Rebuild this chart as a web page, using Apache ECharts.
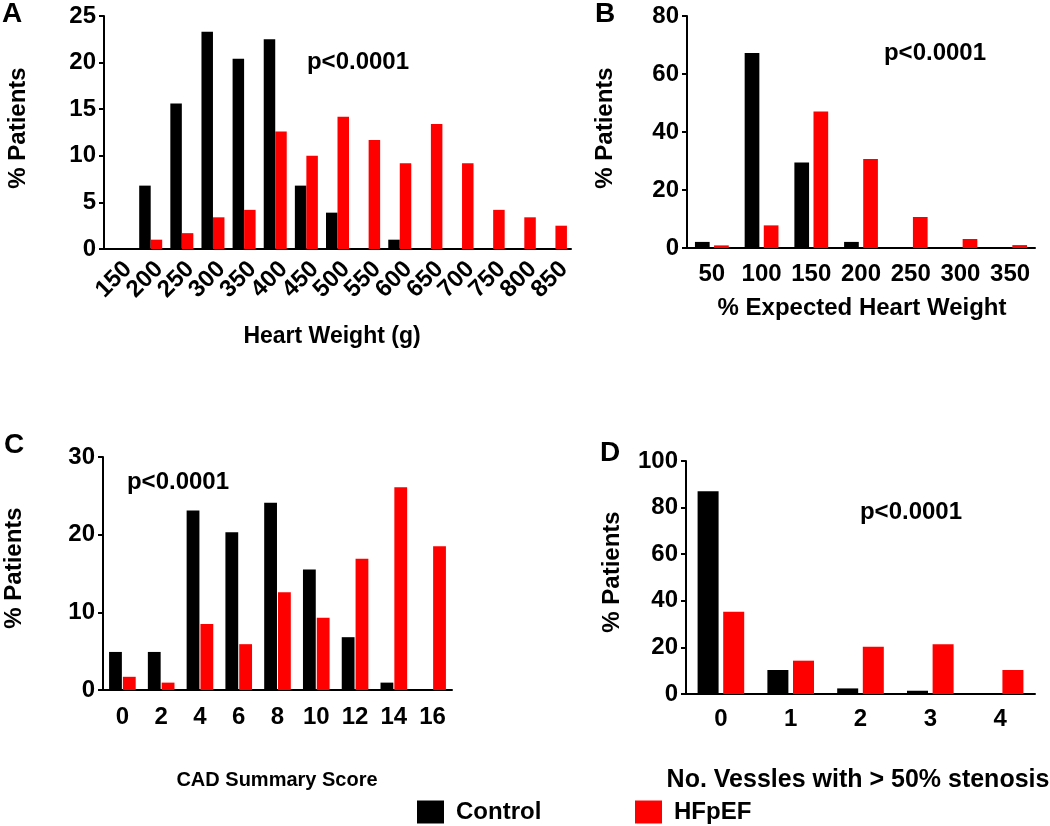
<!DOCTYPE html>
<html>
<head>
<meta charset="utf-8">
<script src="https://cdn.jsdelivr.net/npm/echarts@6/dist/echarts.min.js"></script>
<style>
html,body{margin:0;padding:0;background:#fff}
#chart{width:1050px;height:826px}
</style>
</head>
<body>
<div id="chart"></div>
<script>
// A: heart weight
var weightCats = ['150','200','250','300','350','400','450','500','550','600','650','700','750','800','850'];
var weightControl = [0, 6.8, 15.6, 23.3, 20.4, 22.5, 6.8, 3.9, 0, 1.0, 0, 0, 0, 0, 0];
var weightHfpef = [0, 1.0, 1.7, 3.4, 4.2, 12.6, 10.0, 14.2, 11.7, 9.2, 13.4, 9.2, 4.2, 3.4, 2.5];
// B: % expected heart weight
var expectedCats = ['50','100','150','200','250','300','350'];
var expectedControl = [2.1, 67.2, 29.5, 2.1, 0, 0, 0];
var expectedHfpef = [0.9, 7.8, 47.1, 30.7, 10.7, 3.1, 1.0];
// C: CAD summary score
var cadCats = ['0','2','4','6','8','10','12','14','16'];
var cadControl = [4.9, 4.9, 23.1, 20.3, 24.1, 15.5, 6.8, 0.95, 0];
var cadHfpef = [1.7, 0.95, 8.5, 5.9, 12.6, 9.3, 16.9, 26.1, 18.5];
// D: vessels with > 50% stenosis
var vesselCats = ['0','1','2','3','4'];
var vesselControl = [87.0, 10.3, 2.4, 1.4, 0];
var vesselHfpef = [35.3, 14.3, 20.3, 21.4, 10.3];

var FONT = "'Liberation Sans', Arial, sans-serif";
var BLACK = '#000000';
var RED = '#ff0000';

var panels = [
    {cats: weightCats, ctrl: weightControl, hf: weightHfpef, left: 104, top: 16, width: 467, height: 233,
     max: 25, step: 5, barWidth: 11.5, barGap: '0%', rotate: 45, xMargin: 8, yMargin: 8, vAlign: 'top'},
    {cats: expectedCats, ctrl: expectedControl, hf: expectedHfpef, left: 687, top: 16, width: 348, height: 232,
     max: 80, step: 20, barWidth: 14.7, barGap: '30%', rotate: 0, xMargin: 14, yMargin: 8},
    {cats: cadCats, ctrl: cadControl, hf: cadHfpef, left: 103, top: 457, width: 349, height: 233,
     max: 30, step: 10, barWidth: 12.8, barGap: '8%', rotate: 0, xMargin: 15, yMargin: 8},
    {cats: vesselCats, ctrl: vesselControl, hf: vesselHfpef, left: 686, top: 461, width: 349, height: 233,
     max: 100, step: 20, barWidth: 21, barGap: '22%', rotate: 0, xMargin: 13, yMargin: 8}
];

var grids = [], xAxes = [], yAxes = [], series = [];
panels.forEach(function (p, i) {
    grids.push({left: p.left, top: p.top, width: p.width, height: p.height, containLabel: false});
    var xLabel = {color: BLACK, fontFamily: FONT, fontWeight: 'bold', fontSize: 24,
        rotate: p.rotate, margin: p.xMargin, interval: 0};
    if (p.vAlign) xLabel.verticalAlign = p.vAlign;
    xAxes.push({
        type: 'category', gridIndex: i, data: p.cats,
        axisLine: {lineStyle: {color: BLACK, width: 2}},
        axisTick: {alignWithLabel: true, length: 7, lineStyle: {color: BLACK, width: 2}},
        axisLabel: xLabel
    });
    yAxes.push({
        type: 'value', gridIndex: i, min: 0, max: p.max, interval: p.step,
        splitLine: {show: false},
        axisLine: {show: true, lineStyle: {color: BLACK, width: 2}},
        axisTick: {show: true, length: 5, lineStyle: {color: BLACK, width: 2}},
        axisLabel: {color: BLACK, fontFamily: FONT, fontWeight: 'bold', fontSize: 24, margin: p.yMargin}
    });
    series.push({
        name: 'Control', type: 'bar', xAxisIndex: i, yAxisIndex: i, data: p.ctrl,
        barWidth: p.barWidth, barGap: p.barGap, itemStyle: {color: BLACK}
    });
    series.push({
        name: 'HFpEF', type: 'bar', xAxisIndex: i, yAxisIndex: i, data: p.hf,
        barWidth: p.barWidth, barGap: p.barGap, itemStyle: {color: RED}
    });
});

function txt(x, y, s, size, rot) {
    return {
        type: 'text', x: x, y: y, rotation: rot || 0,
        style: {text: s, fill: BLACK, font: 'bold ' + size + 'px ' + FONT, align: 'center', verticalAlign: 'middle'}
    };
}

var labels = [
    txt(12, 14, 'A', 28), txt(605, 14, 'B', 28), txt(14, 445, 'C', 28), txt(610, 453, 'D', 28),
    txt(18, 128, '% Patients', 24, Math.PI / 2),
    txt(605, 128, '% Patients', 24, Math.PI / 2),
    txt(14, 568, '% Patients', 24, Math.PI / 2),
    txt(612, 572, '% Patients', 24, Math.PI / 2),
    txt(332, 337, 'Heart Weight (g)', 23),
    txt(862, 308, '% Expected Heart Weight', 24),
    txt(277, 780, 'CAD Summary Score', 20),
    txt(858, 780, 'No. Vessles with > 50% stenosis', 25),
    txt(358, 62, 'p<0.0001', 24),
    txt(935, 53, 'p<0.0001', 24),
    txt(178, 482, 'p<0.0001', 24),
    txt(911, 512, 'p<0.0001', 24)
];

var legendBase = {
    top: 800, orient: 'horizontal', icon: 'rect', itemWidth: 27, itemHeight: 23,
    padding: 0, selectedMode: false,
    textStyle: {color: BLACK, fontFamily: FONT, fontWeight: 'bold', fontSize: 24, padding: [0, 0, 0, 7]}
};

var myChart = echarts.init(document.getElementById('chart'), null, {renderer: 'canvas'});
var option = {
    animation: false,
    backgroundColor: '#ffffff',
    grid: grids,
    xAxis: xAxes,
    yAxis: yAxes,
    series: series,
    legend: [
        Object.assign({}, legendBase, {left: 417, data: ['Control']}),
        Object.assign({}, legendBase, {left: 635, data: ['HFpEF']})
    ],
    graphic: labels
};
myChart.setOption(option);

window.addEventListener('resize', function () {
    myChart.resize();
});
</script>
</body>
</html>
